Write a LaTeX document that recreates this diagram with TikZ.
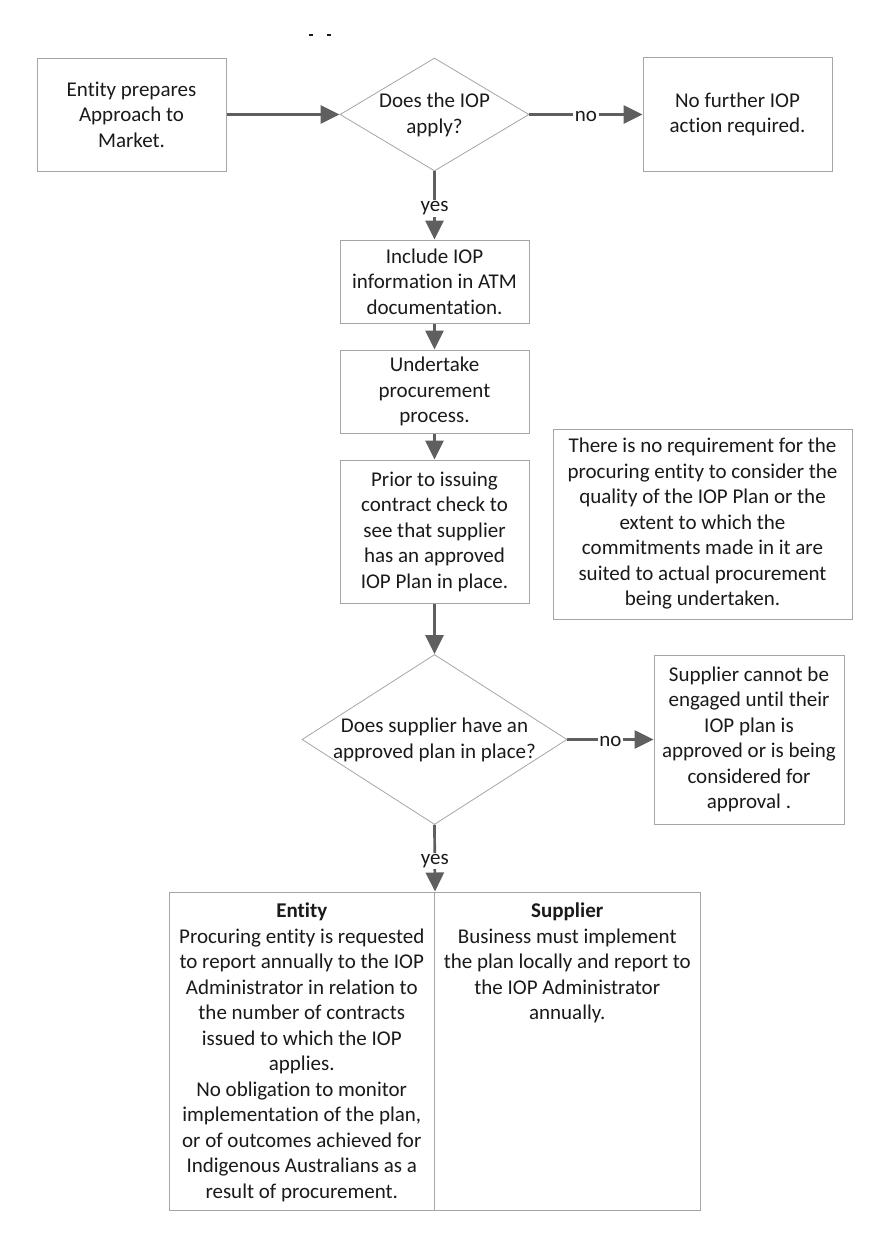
\documentclass[tikz,border=0pt]{standalone}
\usepackage{fontspec}
\setmainfont{Carlito}[Ligatures={NoCommon}]
\usetikzlibrary{arrows.meta,shapes.geometric}
\definecolor{arr}{HTML}{5F5F5F}
\definecolor{bord}{HTML}{A6A6A6}
\definecolor{txt}{HTML}{1A1A1A}
\newcommand\myfs{\fontsize{21}{25.5}\selectfont}
\begin{document}
\begin{tikzpicture}[x=1pt,y=-1pt,
  box/.style={draw=bord,line width=1pt,fill=white,inner sep=0pt,align=center,text=txt,font=\myfs},
  dia/.style={draw=bord,line width=0.8pt,fill=white,shape=diamond,inner sep=0pt},
  plain/.style={inner sep=0pt,align=center,text=txt,font=\myfs},
  arrow/.style={draw=arr,line width=2.7pt,-{Triangle[length=19pt,width=18pt]}},
  lbl/.style={fill=white,inner sep=1.5pt,text=txt,font=\myfs}]
\useasboundingbox (0,0) rectangle (889,1248);
\fill[white] (0,0) rectangle (889,1248);
% small marks at top
\draw[txt,line width=1.3pt] (309,35) -- (312.5,35) (327,35) -- (331,35);
% nodes
\node[box,minimum width=189pt,minimum height=113pt] (e1) at (131.5,114.5) {Entity prepares\\Approach to\\Market.};
\node[dia,minimum width=189pt,minimum height=113pt] (d1) at (434.5,114.5) {};
\node[plain] (d1t) at (434.5,115) {Does the IOP\\apply?};
\node[box,minimum width=189pt,minimum height=114pt] (nf) at (737.5,114.5) {No further IOP\\action required.};
\node[box,minimum width=189pt,minimum height=83pt] (inc) at (434.5,281.5) {Include IOP\\information in ATM\\documentation.};
\node[box,minimum width=189pt,minimum height=83pt] (und) at (434.5,391.5) {Undertake\\procurement\\process.};
\node[box,minimum width=189pt,minimum height=143pt] (pri) at (434.5,531.5) {Prior to issuing\\contract check to\\see that supplier\\has an approved\\IOP Plan in place.};
\node[box,minimum width=299pt,minimum height=190pt] (note) at (702.5,524) {There is no requirement for the\\procuring entity to consider the\\quality of the IOP Plan or the\\extent to which the\\commitments made in it are\\suited to actual procurement\\being undertaken.};
\node[dia,minimum width=265pt,minimum height=170pt] (d2) at (434.5,739.5) {};
\node[plain] (d2t) at (434.5,740) {Does supplier have an\\approved plan in place?};
\node[box,minimum width=190pt,minimum height=169pt] (sup) at (749,739.5) {Supplier cannot be\\engaged until their\\IOP plan is\\approved or is being\\considered for\\approval .};
\node[box,minimum width=265.5pt,minimum height=318pt] (colL) at (301.75,1051) {};
\node[box,minimum width=265.5pt,minimum height=318pt] (colR) at (567.25,1051) {};
\node[plain,anchor=north] (txtL) at (301.75,903) {\textbf{Entity}\\Procuring entity is requested\\to report annually to the IOP\\Administrator in relation to\\the number of contracts\\issued to which the IOP\\applies.\\No obligation to monitor\\implementation of the plan,\\or of outcomes achieved for\\Indigenous Australians as a\\result of procurement.};
\node[plain,anchor=north] (txtR) at (567.25,903) {\textbf{Supplier}\\Business must implement\\the plan locally and report to\\the IOP Administrator\\annually.};
% connectors
\draw[arrow] (e1.east) -- (d1.west);
\draw[arrow] (d1.east) -- node[lbl,yshift=-1.5pt]{no} (nf.west |- d1.east);
\draw[arrow] (d1.south) -- node[lbl,yshift=-3pt]{yes} (inc.north);
\draw[arrow] (inc.south) -- (und.north);
\draw[arrow] (und.south) -- (pri.north);
\draw[arrow] (pri.south) -- (d2.north);
\draw[arrow] (d2.east) -- node[lbl,yshift=-1.5pt]{no} (sup.west |- d2.east);
\draw[arrow] (d2.south) -- node[lbl,yshift=-3pt]{yes} (colL.north east);
\end{tikzpicture}
\end{document}
